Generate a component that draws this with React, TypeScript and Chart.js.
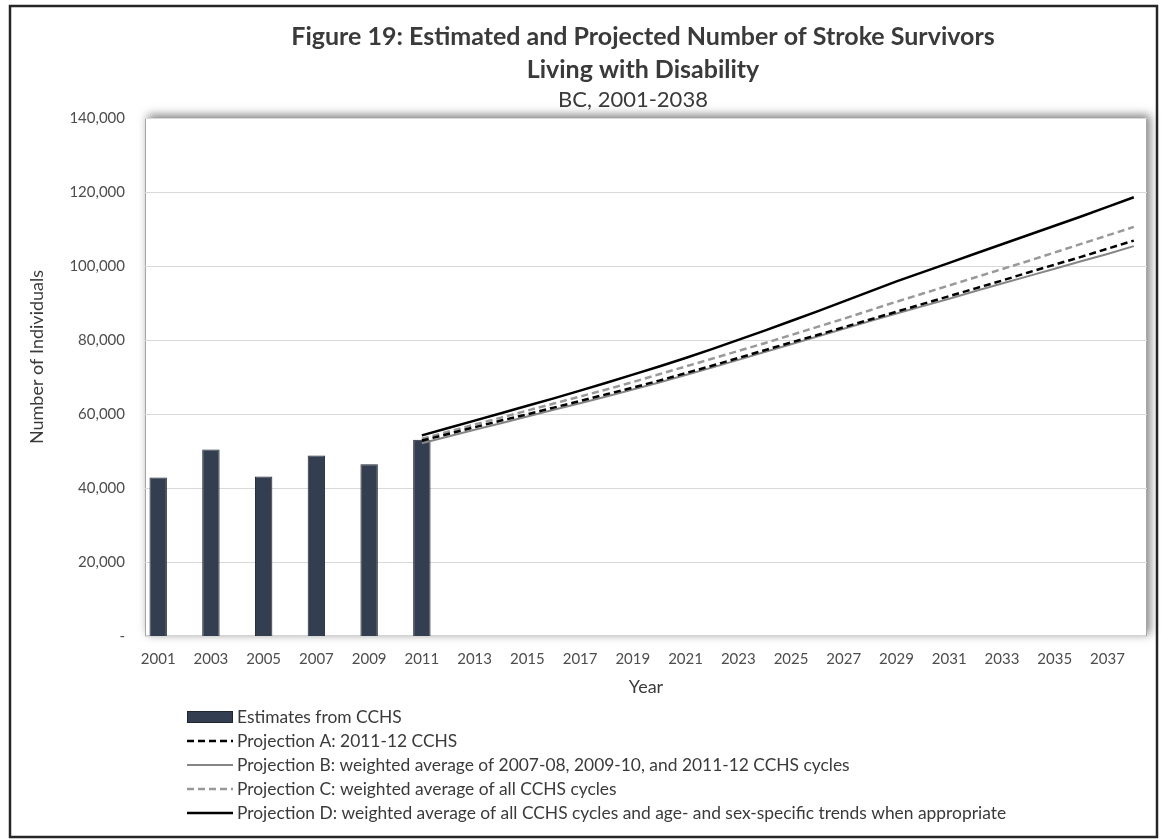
import React, { useEffect, useRef } from 'react';
import { Chart, registerables } from 'chart.js';

Chart.register(...registerables);

// Category axis: every year from 2001 to 2038
const years = [
  2001, 2002, 2003, 2004, 2005, 2006, 2007, 2008, 2009, 2010,
  2011, 2012, 2013, 2014, 2015, 2016, 2017, 2018, 2019, 2020,
  2021, 2022, 2023, 2024, 2025, 2026, 2027, 2028, 2029, 2030,
  2031, 2032, 2033, 2034, 2035, 2036, 2037, 2038,
];

// CCHS survey estimates (bars)
const estimateYears = [2001, 2003, 2005, 2007, 2009, 2011];
const estimates = [42900, 50500, 43200, 48900, 46500, 53100];

// Projection lines, 2011-2038
const projectionYears = [
  2011, 2012, 2013, 2014, 2015, 2016, 2017, 2018, 2019, 2020,
  2021, 2022, 2023, 2024, 2025, 2026, 2027, 2028, 2029, 2030,
  2031, 2032, 2033, 2034, 2035, 2036, 2037, 2038,
];
const projectionA = [
  52900, 54700, 56500, 58300, 60000, 61800, 63600, 65400, 67200, 69100,
  71100, 73100, 75200, 77300, 79400, 81400, 83500, 85600, 87700, 89800,
  91900, 94000, 96100, 98300, 100400, 102500, 104700, 106900,
];
const projectionB = [
  52200, 54000, 55800, 57600, 59400, 61200, 63000, 64800, 66700, 68600,
  70600, 72600, 74700, 76800, 78900, 81000, 83100, 85200, 87200, 89200,
  91200, 93300, 95300, 97300, 99300, 101300, 103300, 105400,
];
const projectionC = [
  53400, 55300, 57200, 59100, 61000, 62900, 64800, 66700, 68700, 70800,
  72900, 75000, 77100, 79200, 81400, 83600, 85800, 88100, 90400, 92600,
  94800, 97000, 99200, 101400, 103700, 106000, 108300, 110600,
];
const projectionD = [
  54300, 56300, 58300, 60300, 62300, 64300, 66400, 68500, 70700, 72900,
  75200, 77600, 80100, 82600, 85200, 87800, 90500, 93200, 95900, 98400,
  100900, 103400, 105900, 108400, 110900, 113400, 116000, 118600,
];

const seriesLabels = [
  'Estimates from CCHS',
  'Projection A: 2011-12 CCHS',
  'Projection B: weighted average of 2007-08, 2009-10, and 2011-12 CCHS cycles',
  'Projection C: weighted average of all CCHS cycles',
  'Projection D: weighted average of all CCHS cycles and age- and sex-specific trends when appropriate',
];

const titleLines = [
  'Figure 19: Estimated and Projected Number of Stroke Survivors',
  'Living with Disability',
];
const subtitle = 'BC, 2001-2038';
const yAxisTitle = 'Number of Individuals';
const xAxisTitle = 'Year';

const FONT = 'Lato, "Open Sans", sans-serif';
const TEXT = '#3a3a3a';
const TICK = '#4d4d4d';
const BAR = '#333f50';

const alignTo = (xs: number[], vs: number[]) =>
  years.map((y) => {
    const i = xs.indexOf(y);
    return i >= 0 ? vs[i] : null;
  });

const decorPlugin = {
  id: 'decor',
  beforeDraw(chart: any) {
    const { ctx, chartArea: a } = chart;
    ctx.save();
    // outer figure frame
    ctx.strokeStyle = '#262626';
    ctx.lineWidth = 2.5;
    ctx.strokeRect(10, 6, 1147, 831);
    // plot area with soft shadow up and to the right
    ctx.shadowColor = 'rgba(0,0,0,0.5)';
    ctx.shadowBlur = 9;
    ctx.shadowOffsetX = 3;
    ctx.shadowOffsetY = -3;
    ctx.fillStyle = '#ffffff';
    ctx.fillRect(a.left, a.top, a.right - a.left, a.bottom - a.top);
    ctx.restore();

    ctx.save();
    ctx.strokeStyle = '#a6a6a6';
    ctx.lineWidth = 1;
    ctx.strokeRect(a.left + 0.5, a.top + 0.5, a.right - a.left - 1, a.bottom - a.top - 1);

    // titles
    ctx.fillStyle = TEXT;
    ctx.textAlign = 'center';
    ctx.textBaseline = 'middle';
    ctx.font = `bold 25px ${FONT}`;
    ctx.fillText(titleLines[0], 643, 37);
    ctx.fillText(titleLines[1], 643, 70);
    ctx.font = `22px ${FONT}`;
    ctx.fillText(subtitle, 633, 100);

    // y axis title
    ctx.save();
    ctx.translate(37, 357);
    ctx.rotate(-Math.PI / 2);
    ctx.font = `18px ${FONT}`;
    ctx.fillText(yAxisTitle, 0, 0);
    ctx.restore();
    ctx.restore();
  },
  afterDraw(chart: any) {
    const { ctx } = chart;
    const ds = chart.data.datasets;
    const x0 = 187;
    const x1 = 233;
    const rowY = [717, 741, 765, 789, 813];
    ctx.save();
    ds.forEach((d: any, i: number) => {
      const y = rowY[i];
      if (d.type === 'bar') {
        ctx.fillStyle = d.backgroundColor;
        ctx.fillRect(x0, y - 6, x1 - x0, 12);
        ctx.strokeStyle = d.borderColor;
        ctx.lineWidth = 1;
        ctx.strokeRect(x0 + 0.5, y - 5.5, x1 - x0 - 1, 11);
      } else {
        ctx.strokeStyle = d.borderColor;
        ctx.lineWidth = d.borderWidth;
        ctx.setLineDash(d.borderDash || []);
        ctx.beginPath();
        ctx.moveTo(x0, y);
        ctx.lineTo(x1, y);
        ctx.stroke();
        ctx.setLineDash([]);
      }
      ctx.fillStyle = TEXT;
      ctx.font = `17.4px ${FONT}`;
      ctx.textAlign = 'left';
      ctx.textBaseline = 'middle';
      ctx.fillText(d.label, 237, y);
    });
    ctx.restore();
  },
};

export default function App() {
  const ref = useRef<HTMLCanvasElement>(null);

  useEffect(() => {
    let chart: Chart | null = null;
    let cancelled = false;

    const build = () => {
      if (cancelled || !ref.current) return;
      chart = new Chart(ref.current, {
        type: 'bar',
        data: {
          labels: years.map(String),
          datasets: [
            {
              type: 'bar',
              label: seriesLabels[0],
              data: alignTo(estimateYears, estimates),
              backgroundColor: BAR,
              borderColor: '#1f2630',
              borderWidth: 1,
              barPercentage: 0.66,
              categoryPercentage: 1,
              order: 10,
            },
            {
              type: 'line',
              label: seriesLabels[1],
              data: alignTo(projectionYears, projectionA),
              borderColor: '#000000',
              borderWidth: 2.5,
              borderDash: [7, 4],
              pointRadius: 0,
              order: 2,
            },
            {
              type: 'line',
              label: seriesLabels[2],
              data: alignTo(projectionYears, projectionB),
              borderColor: '#858585',
              borderWidth: 2,
              pointRadius: 0,
              order: 4,
            },
            {
              type: 'line',
              label: seriesLabels[3],
              data: alignTo(projectionYears, projectionC),
              borderColor: '#999999',
              borderWidth: 2.5,
              borderDash: [7, 4],
              pointRadius: 0,
              order: 3,
            },
            {
              type: 'line',
              label: seriesLabels[4],
              data: alignTo(projectionYears, projectionD),
              borderColor: '#000000',
              borderWidth: 2.5,
              pointRadius: 0,
              order: 1,
            },
          ] as any,
        },
        options: {
          responsive: false,
          animation: false,
          devicePixelRatio: 1,
          layout: { padding: { left: 0, right: 15, top: 118, bottom: 141.5 } },
          plugins: {
            legend: { display: false },
            title: { display: false },
            tooltip: { enabled: false },
          },
          scales: {
            x: {
              type: 'category',
              offset: true,
              grid: { display: false, drawTicks: false },
              border: { display: false },
              ticks: {
                autoSkip: false,
                maxRotation: 0,
                minRotation: 0,
                padding: 14,
                color: TICK,
                font: { family: FONT, size: 15 },
                callback: function (this: any, v: any, i: number) {
                  return i % 2 === 0 ? this.getLabelForValue(v) : '';
                },
              },
              title: {
                display: true,
                text: xAxisTitle,
                color: TEXT,
                font: { family: FONT, size: 18 },
                padding: { top: 0, bottom: 0 },
              },
              afterFit: (s: any) => {
                s.height = 61;
              },
            },
            y: {
              min: 0,
              max: 140000,
              grid: { color: '#d9d9d9', lineWidth: 1, drawTicks: false },
              border: { display: false },
              ticks: {
                stepSize: 20000,
                padding: 20,
                color: TICK,
                font: { family: FONT, size: 15 },
                callback: (v: any) => (Number(v) === 0 ? '-' : Number(v).toLocaleString('en-US')),
              },
              afterFit: (s: any) => {
                s.width = 145;
              },
            },
          },
        },
        plugins: [decorPlugin],
      } as any);
    };

    const fonts = (document as any).fonts;
    if (fonts && fonts.load) {
      Promise.all([
        fonts.load(`bold 25px Lato`),
        fonts.load(`17px Lato`),
      ]).then(build, build);
    } else {
      build();
    }

    return () => {
      cancelled = true;
      if (chart) chart.destroy();
    };
  }, []);

  return (
    <div style={{ position: 'absolute', left: 0, top: 0, width: 1162, height: 839, background: '#fff' }}>
      <canvas ref={ref} width={1162} height={839} style={{ display: 'block', width: 1162, height: 839 }} />
    </div>
  );
}
